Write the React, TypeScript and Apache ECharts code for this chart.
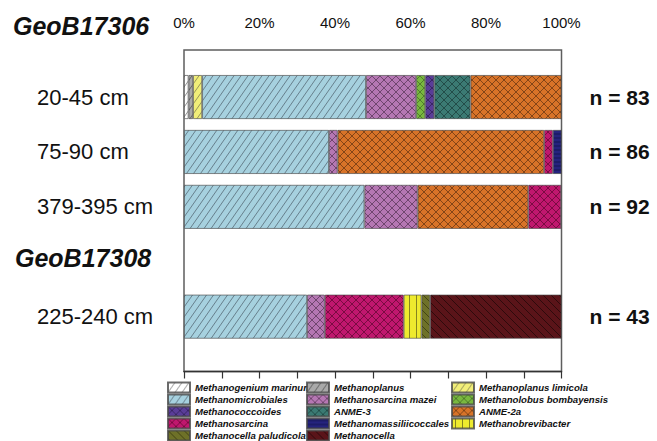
import React, { useEffect, useRef } from "react";
import * as echarts from "echarts";

// ---------- data ----------
const depthLabels = ["20-45 cm", "75-90 cm", "379-395 cm", "GeoB17308", "225-240 cm"];
const sampleSizes = ["n = 83", "n = 86", "n = 92", "", "n = 43"];
const stationTop = "GeoB17306";
const percentTicks = [0, 20, 40, 60, 80, 100];

const taxa = [
  "Methanogenium marinum",
  "Methanoplanus",
  "Methanoplanus limicola",
  "Methanomicrobiales",
  "Methanosarcina mazei",
  "Methanolobus bombayensis",
  "Methanococcoides",
  "ANME-3",
  "ANME-2a",
  "Methanosarcina",
  "Methanomassiliicoccales",
  "Methanobrevibacter",
  "Methanocella paludicola",
  "Methanocella",
];

// percentages per depth (same order as depthLabels); null = absent
const methanogeniumMarinum = [1.2, null, null, null, null];
const methanoplanus = [1.2, null, null, null, null];
const methanoplanusLimicola = [2.4, null, null, null, null];
const methanomicrobiales = [43.4, 38.4, 47.8, null, 32.6];
const methanosarcinaMazei = [13.3, 2.3, 14.1, null, 4.7];
const methanolobusBombayensis = [2.4, null, null, null, null];
const methanococcoides = [2.4, null, null, null, null];
const anme3 = [9.6, null, null, null, null];
const anme2a = [24.1, 54.7, 29.3, null, null];
const methanosarcina = [null, 2.3, 8.7, null, 20.9];
const methanomassiliicoccales = [null, 2.3, null, null, null];
const methanobrevibacter = [null, null, null, null, 4.7];
const methanocellaPaludicola = [null, null, null, null, 2.3];
const methanocella = [null, null, null, null, 34.8];

const taxaValues = [
  methanogeniumMarinum,
  methanoplanus,
  methanoplanusLimicola,
  methanomicrobiales,
  methanosarcinaMazei,
  methanolobusBombayensis,
  methanococcoides,
  anme3,
  anme2a,
  methanosarcina,
  methanomassiliicoccales,
  methanobrevibacter,
  methanocellaPaludicola,
  methanocella,
];

// ---------- styles ----------
type Hatch = "fwd" | "back" | "cross" | "vert" | "horiz";
const taxaStyles: { bg: string; hatch: Hatch; line: string }[] = [
  { bg: "#ffffff", hatch: "fwd", line: "rgba(60,60,60,0.6)" },
  { bg: "#a9a9a9", hatch: "fwd", line: "rgba(40,40,40,0.6)" },
  { bg: "#f1ee78", hatch: "fwd", line: "rgba(60,60,60,0.55)" },
  { bg: "#a6d1df", hatch: "fwd", line: "rgba(50,60,70,0.6)" },
  { bg: "#b577b3", hatch: "cross", line: "rgba(40,20,40,0.55)" },
  { bg: "#79b83f", hatch: "cross", line: "rgba(30,50,20,0.5)" },
  { bg: "#5a3d98", hatch: "cross", line: "rgba(20,10,40,0.5)" },
  { bg: "#3b7a73", hatch: "cross", line: "rgba(10,30,30,0.55)" },
  { bg: "#d87328", hatch: "cross", line: "rgba(60,30,10,0.6)" },
  { bg: "#c0176e", hatch: "cross", line: "rgba(50,0,20,0.55)" },
  { bg: "#25237e", hatch: "horiz", line: "rgba(0,0,20,0.45)" },
  { bg: "#eeea2e", hatch: "vert", line: "rgba(60,60,20,0.65)" },
  { bg: "#6e7128", hatch: "back", line: "rgba(20,20,0,0.55)" },
  { bg: "#5a1419", hatch: "back", line: "rgba(0,0,0,0.55)" },
];

const FONT = "'Liberation Sans', Arial, Helvetica, sans-serif";

function makePattern(bg: string, hatch: Hatch, line: string) {
  let w = 8;
  let h = 8;
  if (hatch === "fwd") { w = 7; h = 10; }
  if (hatch === "vert") { w = 7; h = 7; }
  if (hatch === "horiz") { w = 4; h = 4; }
  const c = document.createElement("canvas");
  c.width = w;
  c.height = h;
  const ctx = c.getContext("2d")!;
  ctx.fillStyle = bg;
  ctx.fillRect(0, 0, w, h);
  ctx.strokeStyle = line;
  ctx.lineWidth = 0.9;
  ctx.beginPath();
  if (hatch === "fwd" || hatch === "cross") {
    for (let k = -1; k <= 1; k++) {
      ctx.moveTo(-w, 2 * h + k * h);
      ctx.lineTo(2 * w, -h + k * h);
    }
  }
  if (hatch === "back" || hatch === "cross") {
    for (let k = -1; k <= 1; k++) {
      ctx.moveTo(-w, -h + k * h);
      ctx.lineTo(2 * w, 2 * h + k * h);
    }
  }
  if (hatch === "vert") {
    ctx.moveTo(w / 2, 0);
    ctx.lineTo(w / 2, h);
  }
  if (hatch === "horiz") {
    ctx.moveTo(0, h / 2);
    ctx.lineTo(w, h / 2);
  }
  ctx.stroke();
  return { image: c, repeat: "repeat", imageWidth: w, imageHeight: h } as any;
}

const legendCols = [
  [taxa[0], taxa[3], taxa[6], taxa[9], taxa[12]],
  [taxa[1], taxa[4], taxa[7], taxa[10], taxa[13]],
  [taxa[2], taxa[5], taxa[8], taxa[11]],
];

export default function App() {
  const ref = useRef<HTMLDivElement>(null);
  useEffect(() => {
    document.body.style.margin = "0";
    const chart = echarts.init(ref.current!, null, { renderer: "svg" });
    const gridLeft = 184;
    const gridWidth = 377.5;
    const legendLefts = [167, 306, 451];
    const option: any = {
      animation: false,
      backgroundColor: "#ffffff",
      textStyle: { fontFamily: FONT },
      graphic: [
        {
          type: "text",
          left: 13,
          top: 13,
          style: {
            text: stationTop,
            font: `italic bold 25px ${FONT}`,
            fill: "#111",
          },
        },
      ],
      grid: [
        {
          left: gridLeft,
          top: 50,
          width: gridWidth,
          height: 321.5,
          show: true,
          borderColor: "#5e5e5e",
          borderWidth: 1.5,
          backgroundColor: "transparent",
        },
        {
          left: gridLeft,
          top: 69.6,
          width: gridWidth,
          height: 274.5,
        },
      ],
      xAxis: [
        {
          gridIndex: 0,
          type: "value",
          position: "top",
          min: 0,
          max: 100,
          interval: 10,
          axisLine: { show: true, lineStyle: { color: "#333", width: 1.3 } },
          axisTick: { show: true, inside: true, length: 7, lineStyle: { color: "#333", width: 1.2 } },
          splitLine: { show: false },
          axisLabel: {
            margin: 20,
            fontSize: 15,
            color: "#111",
            fontFamily: FONT,
            formatter: (v: number) => (percentTicks.indexOf(v) >= 0 ? `${v}%` : ""),
          },
        },
        { gridIndex: 1, type: "value", min: 0, max: 100, show: false },
      ],
      yAxis: [
        { gridIndex: 0, type: "value", show: false },
        {
          gridIndex: 1,
          type: "category",
          inverse: true,
          data: depthLabels,
          axisLine: { show: false },
          axisTick: { show: false },
          splitLine: { show: false },
          axisLabel: {
            margin: gridLeft - 15,
            align: "left",
            formatter: (v: string) => (v === "GeoB17308" ? `{g|${v}}` : `{c|${v}}`),
            rich: {
              c: { fontSize: 22, fontFamily: FONT, color: "#111", padding: [0, 0, 0, 22] },
              g: {
                fontSize: 25,
                fontFamily: FONT,
                fontWeight: "bold",
                fontStyle: "italic",
                color: "#111",
                padding: [0, 0, 8, 0],
              },
            },
          },
        },
        {
          gridIndex: 1,
          type: "category",
          inverse: true,
          position: "right",
          data: depthLabels,
          axisLine: { show: false },
          axisTick: { show: false },
          splitLine: { show: false },
          axisLabel: {
            margin: 28,
            align: "left",
            fontSize: 21,
            fontWeight: "bold",
            fontFamily: FONT,
            color: "#111",
            formatter: (_v: string, i: number) => sampleSizes[i],
          },
        },
      ],
      legend: legendCols.map((col, ci) => ({
        type: "plain",
        data: col,
        orient: "vertical",
        left: legendLefts[ci],
        top: 381.5,
        width: 150,
        height: 90,
        padding: 0,
        itemGap: 0,
        itemWidth: 22,
        itemHeight: 10,
        icon: "rect",
        selectedMode: false,
        textStyle: {
          fontFamily: FONT,
          fontSize: 9.6,
          fontStyle: "italic",
          fontWeight: "bold",
          color: "#111",
          lineHeight: 12,
        },
      })),
      series: taxa.map((name, i) => ({
        name,
        type: "bar",
        stack: "all",
        xAxisIndex: 1,
        yAxisIndex: 1,
        barWidth: 44,
        silent: true,
        data: taxaValues[i],
        itemStyle: {
          color: makePattern(taxaStyles[i].bg, taxaStyles[i].hatch, taxaStyles[i].line),
          borderColor: "rgba(70,70,70,0.8)",
          borderWidth: 0.8,
        },
        emphasis: { disabled: true },
      })),
    };
    chart.setOption(option);
    return () => chart.dispose();
  }, []);
  return (
    <div
      ref={ref}
      style={{ position: "absolute", left: 0, top: 0, width: 657, height: 441, background: "#fff" }}
    />
  );
}
